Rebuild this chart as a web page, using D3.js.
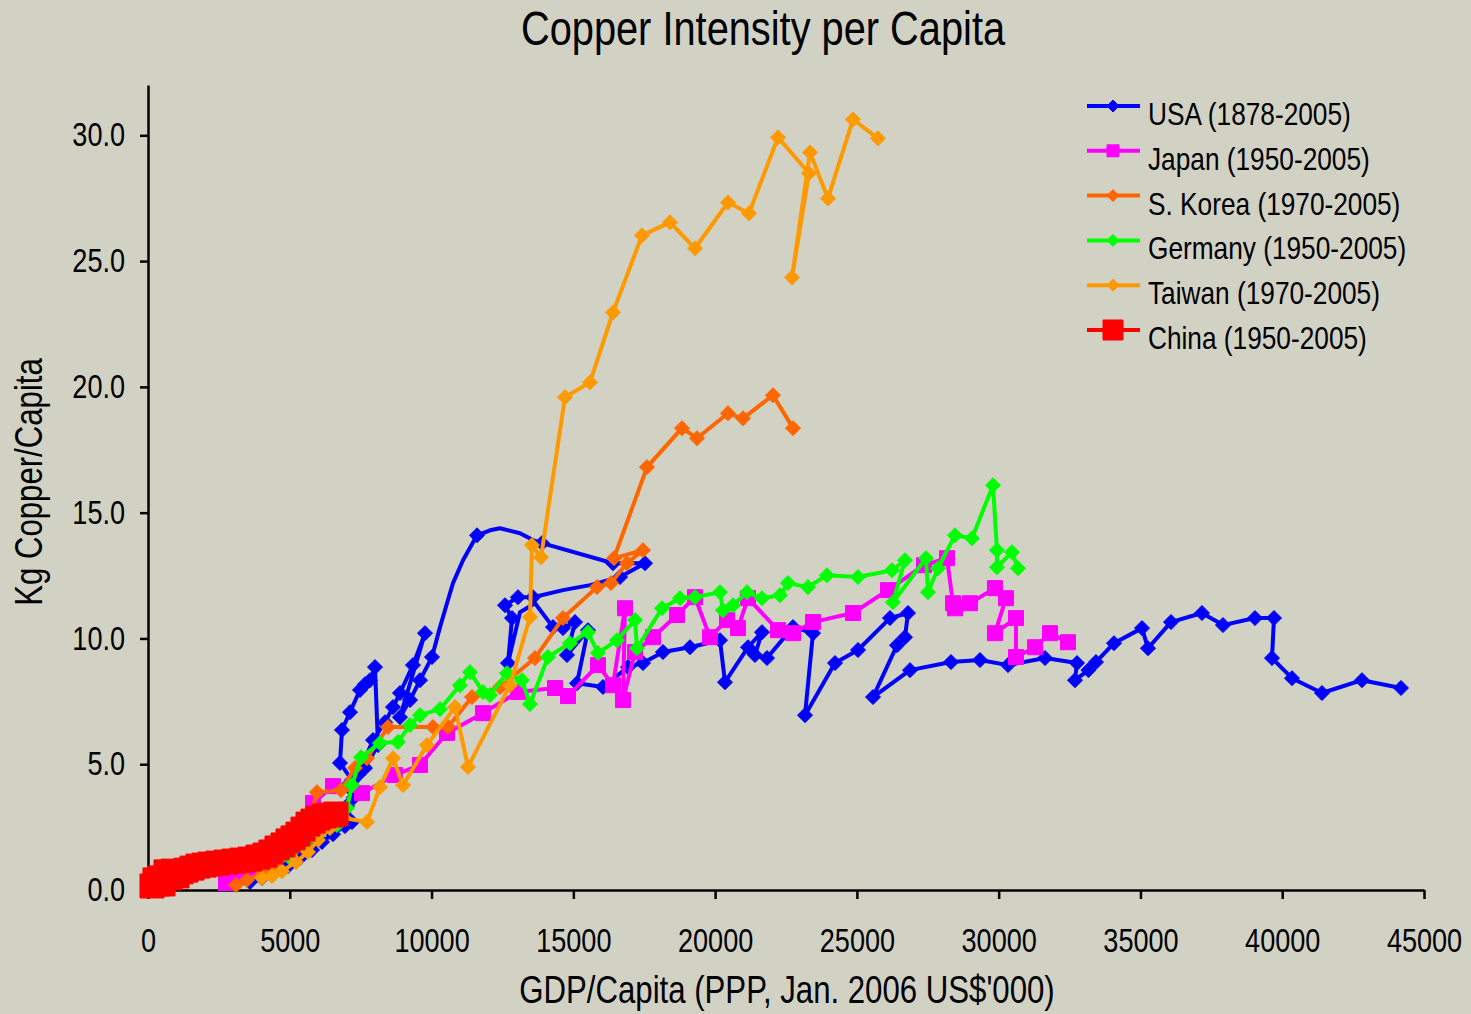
<!DOCTYPE html>
<html>
<head>
<meta charset="utf-8">
<script src="https://cdn.jsdelivr.net/npm/d3@7"></script>
<style>
  html, body { margin: 0; padding: 0; background: #d1d1c4; }
  svg { display: block; }
  text { font-family: "Liberation Sans", Arial, sans-serif; fill: #000; }
</style>
</head>
<body>
<svg id="chart" width="1471" height="1014"></svg>
<script>
// Axis ticks
const xTicks = [0, 5000, 10000, 15000, 20000, 25000, 30000, 35000, 40000, 45000];
const yTicks = [0, 5, 10, 15, 20, 25, 30];

// Series: [GDP per capita (US$), kg copper per capita, optional 0 = no marker]
const usa = [
  [3597,0.32],[4020,0.48],[4479,0.72],[4937,0.95],[5360,1.27],[5784,1.59],[6136,1.91],[6524,2.22],
  [6947,2.54],[7194,2.70],[7018,3.34],[7265,3.69],[7053,4.17],[7194,4.37],[6771,5.05],[6842,6.36],
  [7124,7.07],[7476,7.95],[7653,8.18],[7829,8.34],[8005,8.86],[8111,5.76],[7653,4.85],[7194,3.97],
  [7406,4.57],[7935,5.96],[8358,6.67],[8640,7.27],[8887,7.83],[9345,8.94],[9769,10.21],[8887,6.87],
  [9240,7.55],[9592,8.34],[10016,9.26],[10298,10.45,0],[10545,11.40,0],[10756,12.20,0],[11109,13.11,0],
  [11603,14.10],[12061,14.30,0],[12414,14.38,0],[13119,14.18,0],[13577,13.91,0],[13895,13.79],
  [16399,12.99],[17527,12.99],[16646,12.44],[15588,12.12,0],[14635,11.92,0],[13577,11.64],[13048,11.64],
  [12590,11.32],[12837,10.81],[12696,9.02],[13119,11.04,0],[13648,11.40,0],[14283,10.45],[14635,10.41],
  [15059,10.65],[14776,9.34],[15517,10.33],[15129,8.22],[16046,8.07],[16928,8.86],[17457,9.02],
  [18162,9.46],[19114,9.65],[20172,9.93],[20349,8.26],[21160,9.65],[21653,10.25],[21406,9.34],
  [21830,9.22],[22747,10.45],[23452,10.21],[23170,6.95],[24228,9.02],[25039,9.54],[26167,10.81],
  [26802,11.01],[26696,10.05],[26414,9.73],[25568,7.67],[26873,8.74],[28319,9.06],[29341,9.14],
  [30329,8.94],[31634,9.22],[32762,9.02],[32692,8.34],[33166,8.74],[33431,9.06],[34067,9.81],
  [35055,10.41],[35266,9.61],[36077,10.65],[37170,11.01],[37911,10.53],[39039,10.81],[39710,10.81],
  [39639,9.22],[40344,8.42],[41402,7.83],[42813,8.34],[44188,8.03]
];

const japan = [
  [2751,0.28],[3174,0.52],[3597,0.83],[4020,1.15],[4479,1.55],[4937,1.99],[5360,2.46],[5819,3.46],
  [6524,4.13],[7547,3.85],[8711,4.57],[9592,4.97],[10545,6.24],[11814,7.03],[13048,7.87],[14353,8.03],
  [14812,7.71],[15870,8.94],[16399,8.14],[16822,11.20],[16751,7.55],[17175,9.46],[17809,10.05],
  [18656,10.93],[19291,11.64],[19819,10.05],[20419,10.73],[20807,10.41],[21160,11.60],[22218,10.33],
  [22747,10.21],[23452,10.65],[24863,11.01],[26097,11.92],[27366,12.91],[28178,13.19],[28389,11.40],
  [28460,11.20],[28989,11.40],[29870,12.00],[30258,11.60],[29870,10.21],[30611,10.81],[30611,9.26],
  [31281,9.65],[31810,10.21],[32445,9.85]
];

const korea = [
  [3103,0.20],[3491,0.40],[4056,0.68],[4514,0.95],[5008,1.39],[5466,1.91],[5960,3.89],[6806,3.97],
  [7300,4.85],[7723,5.24],[8464,6.48],[10051,6.48],[10580,6.48],[11426,7.67],[12414,8.07],[13648,9.22],
  [14635,10.81],[15834,12.04],[16328,12.20],[16892,12.99],[17457,13.51],[16434,13.19],[17598,16.81],
  [18832,18.36],[19361,17.96],[20454,18.95],[20983,18.75],[22041,19.67],[22747,18.36]
];

const germany = [
  [5008,1.27],[5537,1.79],[6066,2.26],[6665,2.58],[7018,3.26],[7194,4.17],[7512,5.28],[8182,5.84],
  [8817,5.88],[9240,6.56],[9592,6.95],[10298,7.19],[11003,8.14],[11356,8.66],[11814,7.87],[12061,7.75],
  [12660,8.62],[13189,8.34],[13472,7.39],[14106,9.26],[14882,9.81],[15517,10.25],[15870,9.42],
  [16540,9.93],[17175,10.73],[17245,9.61],[18127,11.20],[18762,11.60],[19291,11.64],[20172,11.84],
  [20278,11.12],[20631,11.32],[21125,11.84],[21653,11.60],[22289,11.72],[22570,12.20],[23276,12.04],
  [23946,12.51],[25039,12.44],[26238,12.71],[26696,13.11],[26273,11.44],[27438,13.19],[27508,11.84],
  [27860,12.79],[28460,14.10],[29059,13.98],[29800,16.09],[29941,13.51],[29941,12.83],[30470,13.43],
  [30681,12.79]
];

const taiwan = [
  [4020,0.48],[4373,0.56],[4726,0.75],[5219,1.11],[5643,1.51],[5995,1.99],[6418,2.46],[6912,2.86],
  [7723,2.70],[8182,4.09],[8640,5.24],[8993,4.17],[9839,5.76],[10827,7.27],[11285,4.89],[12766,8.14],
  [13472,10.85],[13542,13.71],[13860,13.23],[14706,19.59],[15588,20.18],[16399,22.96],[17421,26.02],
  [18409,26.54],[19291,25.51],[20454,27.33],[21195,26.90],[22218,29.92],[23311,28.49],[22711,24.35],
  [23346,29.32],[23981,27.49],[24863,30.63],[25744,29.88]
];

const china = [
  [141,0.16],[247,0.40],[353,0.24],[423,0.48],[529,0.24],[635,0.72],[776,0.48],[882,0.75],
  [1023,0.56],[1164,0.72],[1340,0.79],[1552,0.87],[1763,0.95],[1975,0.99],[2186,1.03],[2469,1.07],
  [2751,1.11],[3033,1.15],[3315,1.19],[3597,1.23],[3879,1.31],[4126,1.39],[4338,1.51],[4549,1.67],
  [4761,1.79],[4937,1.95],[5114,2.07],[5290,2.22],[5466,2.42],[5643,2.62],[5819,2.74],[5995,2.86],
  [6207,2.94],[6418,2.98],[6630,3.02]
];

const seriesNames = [
  "USA (1878-2005)", "Japan (1950-2005)", "S. Korea (1970-2005)",
  "Germany (1950-2005)", "Taiwan (1970-2005)", "China (1950-2005)"
];

// Drawing styles, in series order
const series = [
  { name: seriesNames[0], data: usa,     color: "#0000ff", shape: "diamond", size: 15, legendSize: 12 },
  { name: seriesNames[1], data: japan,   color: "#ff00ff", shape: "square",  size: 15, legendSize: 12 },
  { name: seriesNames[2], data: korea,   color: "#ff6600", shape: "diamond", size: 15, legendSize: 12 },
  { name: seriesNames[3], data: germany, color: "#00ff00", shape: "diamond", size: 15, legendSize: 12 },
  { name: seriesNames[4], data: taiwan,  color: "#ff9900", shape: "diamond", size: 15, legendSize: 12 },
  { name: seriesNames[5], data: china,   color: "#ff0000", shape: "square",  size: 24, legendSize: 20 }
];

// Condensed lettering: Liberation Sans squeezed horizontally
const NARROW = 0.82;
function narrow(sel) {
  sel.each(function () {
    const w = this.getComputedTextLength();
    d3.select(this).attr("textLength", w * NARROW).attr("lengthAdjust", "spacingAndGlyphs");
  });
}

(function draw() {
  const svg = d3.select("#chart");
  const plotLeft = 148, plotRight = 1424, plotTop = 85, plotBottom = 890;

  const x = d3.scaleLinear().domain([0, 45000]).range([plotLeft, plotRight]);
  const y = d3.scaleLinear().domain([0, 32]).range([plotBottom, plotTop]);

  svg.append("rect").attr("width", 1471).attr("height", 1014).attr("fill", "#d1d1c4");

  // Title
  svg.append("text")
    .attr("x", 763).attr("y", 45)
    .attr("text-anchor", "middle")
    .style("font-size", "48.5px")
    .text("Copper Intensity per Capita")
    .call(narrow);

  // Axes
  const xAxis = d3.axisBottom(x).tickValues(xTicks).tickFormat(d3.format("d"))
    .tickSize(9).tickSizeOuter(0).tickPadding(30);
  const yAxis = d3.axisLeft(y).tickValues(yTicks).tickFormat(d3.format(".1f"))
    .tickSize(8).tickSizeOuter(0).tickPadding(15);

  const gx = svg.append("g").attr("transform", `translate(0,${plotBottom})`).call(xAxis);
  const gy = svg.append("g").attr("transform", `translate(${plotLeft},0)`).call(yAxis);

  [gx, gy].forEach(g => {
    g.select(".domain").attr("stroke", "#000").attr("stroke-width", 2.5);
    g.selectAll(".tick line").attr("stroke", "#000").attr("stroke-width", 2.5);
    g.selectAll(".tick text").attr("fill", "#000")
      .style("font-family", '"Liberation Sans", Arial, sans-serif')
      .style("font-size", "33px")
      .call(narrow);
  });

  // Axis titles
  svg.append("text")
    .attr("x", 787).attr("y", 1003)
    .attr("text-anchor", "middle")
    .style("font-size", "38px")
    .text("GDP/Capita (PPP, Jan. 2006 US$'000)")
    .call(narrow);

  svg.append("text")
    .attr("transform", "translate(42,482) rotate(-90)")
    .attr("text-anchor", "middle")
    .style("font-size", "38px")
    .text("Kg Copper/Capita")
    .call(narrow);

  // Marker outline: diamond or square centred on (cx, cy)
  function markerPath(shape, size, cx, cy) {
    const r = size / 2;
    if (shape === "diamond") {
      return `M${cx},${cy - r}L${cx + r},${cy}L${cx},${cy + r}L${cx - r},${cy}Z`;
    }
    return `M${cx - r},${cy - r}H${cx + r}V${cy + r}H${cx - r}Z`;
  }

  const line = d3.line().x(d => x(d[0])).y(d => y(d[1]));

  const plot = svg.append("g");
  series.forEach(s => {
    const g = plot.append("g");
    g.append("path")
      .datum(s.data)
      .attr("d", line)
      .attr("fill", "none")
      .attr("stroke", s.color)
      .attr("stroke-width", 4)
      .attr("stroke-linejoin", "round")
      .attr("stroke-linecap", "round");
    g.selectAll("path.mk")
      .data(s.data.filter(d => d[2] !== 0))
      .join("path")
      .attr("class", "mk")
      .attr("d", d => markerPath(s.shape, s.size, x(d[0]), y(d[1])))
      .attr("fill", s.color)
      .attr("stroke", s.color)
      .attr("stroke-width", 1);
  });

  // Legend
  const legend = svg.append("g");
  series.forEach((s, i) => {
    const ly = 106 + i * 44.8;
    legend.append("line")
      .attr("x1", 1087).attr("x2", 1140).attr("y1", ly).attr("y2", ly)
      .attr("stroke", s.color).attr("stroke-width", 4);
    legend.append("path")
      .attr("d", markerPath(s.shape, s.legendSize, 1113, ly))
      .attr("fill", s.color).attr("stroke", s.color).attr("stroke-width", 1);
    legend.append("text")
      .attr("x", 1148).attr("y", ly + 19)
      .style("font-size", "32px")
      .text(s.name)
      .call(narrow);
  });
})();
</script>
</body>
</html>
